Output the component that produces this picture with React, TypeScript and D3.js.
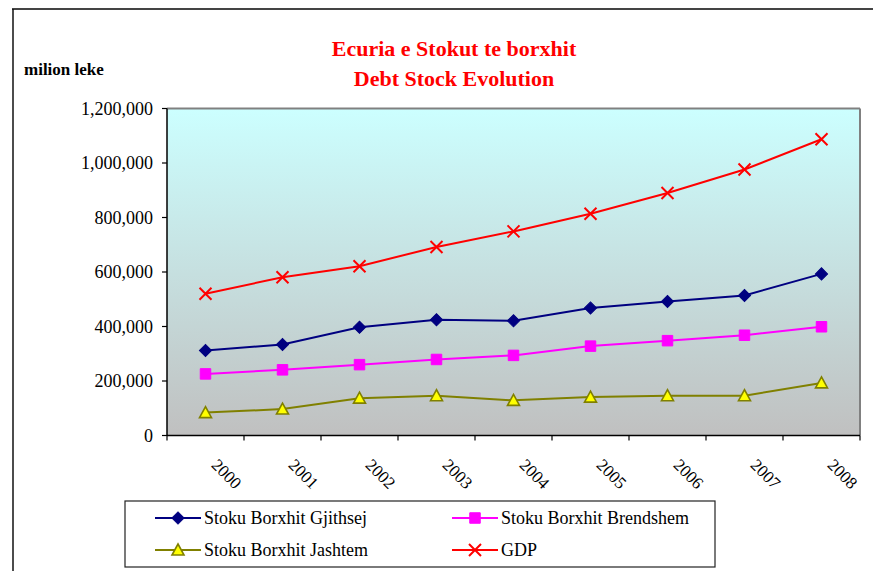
import React from "react";
import * as d3 from "d3";

const years = ["2000", "2001", "2002", "2003", "2004", "2005", "2006", "2007", "2008"];
const gjithsej = [312000, 334000, 397000, 425000, 421000, 468000, 492000, 514000, 593000];
const brendshem = [226000, 241000, 260000, 279000, 294000, 328000, 348000, 368000, 399000];
const jashtem = [84000, 97000, 137000, 146000, 129000, 141000, 146000, 146000, 193000];
const gdp = [520000, 581000, 621000, 692000, 749000, 814000, 890000, 976000, 1087000];
const yTicks = [0, 200000, 400000, 600000, 800000, 1000000, 1200000];
const titleLines = ["Ecuria e Stokut te borxhit", "Debt Stock Evolution"];
const yUnit = "milion leke";

type Series = { name: string; values: number[]; color: string; marker: string; fill: string };
const series: Series[] = [
  { name: "Stoku Borxhit Gjithsej", values: gjithsej, color: "#000080", marker: "diamond", fill: "#000080" },
  { name: "Stoku Borxhit Brendshem", values: brendshem, color: "#FF00FF", marker: "square", fill: "#FF00FF" },
  { name: "Stoku Borxhit Jashtem", values: jashtem, color: "#808000", marker: "triangle", fill: "#FFFF00" },
  { name: "GDP", values: gdp, color: "#FF0000", marker: "x", fill: "none" },
];

const W = 873;
const H = 571;
const plot = { left: 167, right: 860, top: 108.5, bottom: 435.5 };
const serif = "'Liberation Serif', 'Times New Roman', Times, serif";
const tf = { fontFamily: serif };

function Marker({ type, x, y, color, fill }: { type: string; x: number; y: number; color: string; fill: string }) {
  if (type === "diamond") {
    const p = d3.symbol().type(d3.symbolSquare).size(74)()!;
    return <path d={p} transform={`translate(${x},${y}) rotate(45)`} fill={fill} stroke={color} strokeWidth={1} />;
  }
  if (type === "square") {
    const p = d3.symbol().type(d3.symbolSquare).size(110)()!;
    return <path d={p} transform={`translate(${x},${y})`} fill={fill} stroke={color} strokeWidth={1} />;
  }
  if (type === "triangle") {
    return <path d="M0,-6L6,5L-6,5Z" transform={`translate(${x},${y})`} fill={fill} stroke={color} strokeWidth={1.6} />;
  }
  return (
    <path d="M-6,-6L6,6M-6,6L6,-6" transform={`translate(${x},${y})`} fill="none" stroke={color} strokeWidth={2} />
  );
}

export default function App() {
  const x = d3.scaleBand<string>().domain(years).range([plot.left, plot.right]).padding(0);
  const y = d3.scaleLinear().domain([0, 1200000]).range([plot.bottom, plot.top]);
  const cx = (yr: string) => (x(yr) ?? 0) + x.bandwidth() / 2;
  const fmt = d3.format(",");
  const line = d3
    .line<number>()
    .x((_, i) => cx(years[i]))
    .y((v) => y(v));

  const boundaries = years.map((yr) => x(yr) ?? 0).concat([plot.right]);

  const legendX = 125;
  const legendY = 501;
  const legendW = 590;
  const legendH = 66;
  const legendCols = [155, 452];
  const legendRows = [518, 550];

  return (
    <svg width={W} height={H} style={{ position: "absolute", left: 0, top: 0, background: "#fff", fontFamily: serif }}>
      <defs>
        <linearGradient id="bg" x1="0" y1="0" x2="0" y2="1">
          <stop offset="0%" stopColor="#CCFFFF" />
          <stop offset="100%" stopColor="#C0C0C0" />
        </linearGradient>
      </defs>
      <rect x={0} y={0} width={W} height={H} fill="#fff" />
      {/* outer chart frame */}
      <line x1={12} y1={9} x2={W} y2={9} stroke="#444" strokeWidth={2} />
      <line x1={13} y1={9} x2={13} y2={H} stroke="#111" strokeWidth={1.5} />

      {/* titles */}
      {titleLines.map((t, i) => (
        <text key={t} x={454} y={56 + i * 29.5} textAnchor="middle" fontSize={22} fontWeight="bold" fill="#FF0000" style={tf}>
          {t}
        </text>
      ))}
      <text x={24} y={75} fontSize={17} fontWeight="bold" fill="#000" style={tf}>
        {yUnit}
      </text>

      {/* plot area */}
      <rect x={plot.left} y={plot.top} width={plot.right - plot.left} height={plot.bottom - plot.top} fill="url(#bg)" />
      <line x1={plot.left} y1={plot.top} x2={plot.right} y2={plot.top} stroke="#808080" strokeWidth={2} />
      <line x1={plot.right} y1={plot.top} x2={plot.right} y2={plot.bottom} stroke="#808080" strokeWidth={2} />

      {/* y axis */}
      <line x1={plot.left} y1={plot.top} x2={plot.left} y2={plot.bottom} stroke="#000" strokeWidth={1.5} />
      {yTicks.map((t) => (
        <g key={t}>
          <line x1={plot.left - 5} x2={plot.left} y1={y(t)} y2={y(t)} stroke="#000" strokeWidth={1.2} />
          <text x={153} y={y(t)} dy="0.35em" textAnchor="end" fontSize={18} fill="#000" style={tf}>
            {fmt(t)}
          </text>
        </g>
      ))}

      {/* x axis */}
      <line x1={plot.left} y1={plot.bottom} x2={plot.right} y2={plot.bottom} stroke="#000" strokeWidth={1.5} />
      {boundaries.map((b, i) => (
        <line key={i} x1={b} x2={b} y1={plot.bottom} y2={plot.bottom + 5} stroke="#000" strokeWidth={1.2} />
      ))}
      {years.map((yr) => (
        <text
          key={yr}
          transform={`translate(${cx(yr) + 5},${466}) rotate(45)`}
          fontSize={17}
          fill="#000"
          style={tf}
        >
          {yr}
        </text>
      ))}

      {/* series */}
      {series.map((s) => (
        <g key={s.name}>
          <path d={line(s.values) ?? ""} fill="none" stroke={s.color} strokeWidth={2} />
          {s.values.map((v, i) => (
            <Marker key={i} type={s.marker} x={cx(years[i])} y={y(v)} color={s.color} fill={s.fill} />
          ))}
        </g>
      ))}

      {/* legend */}
      <rect x={legendX} y={legendY} width={legendW} height={legendH} fill="#fff" stroke="#222" strokeWidth={1.2} />
      {series.map((s, i) => {
        const lx = legendCols[i % 2];
        const ly = legendRows[Math.floor(i / 2)];
        return (
          <g key={s.name}>
            <line x1={lx} x2={lx + 46} y1={ly} y2={ly} stroke={s.color} strokeWidth={2} />
            <Marker type={s.marker} x={lx + 23} y={ly} color={s.color} fill={s.fill} />
            <text x={lx + 49} y={ly + 6} fontSize={18} fill="#000" style={tf}>
              {s.name}
            </text>
          </g>
        );
      })}
    </svg>
  );
}
